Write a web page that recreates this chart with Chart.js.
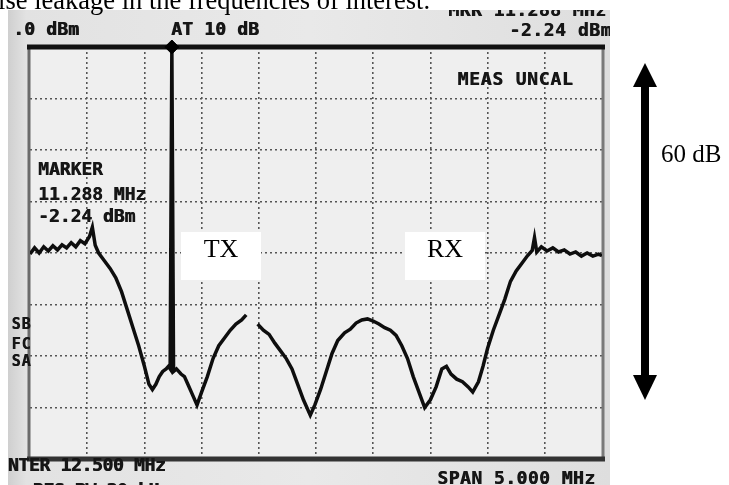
<!DOCTYPE html>
<html><head><meta charset="utf-8">
<script src="https://cdn.jsdelivr.net/npm/chart.js@4.4.1/dist/chart.umd.min.js"></script>
<style>html,body{margin:0;padding:0;background:#fff;overflow:hidden}</style>
</head><body>
<canvas id="c" width="729" height="485"></canvas>
<script>
// ---- data (spectrum analyzer trace) ----
const freqMHz = [10.00,10.04,10.08,10.12,10.16,10.20,10.24,10.28,10.32,10.36,10.40,10.44,10.48,10.52,10.545,10.57,10.60,10.65,10.70,10.75,10.80,10.85,10.90,10.95,11.00,11.04,11.07,11.10,11.13,11.16,11.19,11.21,11.225,11.24,11.255,11.28,11.32,11.35,11.38,11.42,11.46,11.50,11.55,11.60,11.65,11.70,11.75,11.80,11.85,11.89,11.94,11.99,12.04,12.09,12.14,12.19,12.24,12.29,12.34,12.39,12.45,12.49,12.54,12.59,12.64,12.69,12.75,12.80,12.85,12.90,12.95,13.00,13.05,13.10,13.15,13.20,13.25,13.30,13.35,13.40,13.45,13.50,13.55,13.60,13.64,13.68,13.73,13.78,13.83,13.87,13.92,13.96,14.00,14.05,14.10,14.15,14.20,14.25,14.30,14.35,14.39,14.41,14.43,14.47,14.52,14.57,14.62,14.67,14.72,14.77,14.82,14.87,14.92,14.97,15.00];
const levelDbm = [-40.2,-39.0,-40.0,-38.8,-39.6,-38.6,-39.4,-38.4,-39.0,-38.0,-38.8,-37.6,-38.2,-36.8,-35.0,-38.5,-40.0,-41.5,-43.0,-44.8,-47.5,-51.0,-54.5,-58.0,-62.0,-65.5,-66.5,-65.5,-64.0,-63.0,-62.5,-62.0,-62.5,0,-63.0,-62.5,-63.5,-64.0,-65.5,-67.5,-69.5,-67.0,-64.0,-60.5,-58.0,-56.5,-55.0,-53.8,-53.0,-52.0,null,-53.8,-55.0,-55.8,-57.5,-59.0,-60.5,-62.5,-65.5,-68.5,-71.5,-69.5,-66.5,-63.0,-59.5,-57.0,-55.5,-54.8,-53.6,-53.0,-52.8,-53.2,-53.8,-54.5,-55.0,-56.0,-58.0,-60.5,-64.0,-67.0,-70.0,-68.5,-66.0,-62.5,-62.0,-63.5,-64.5,-65.0,-66.0,-67.0,-65.0,-62.0,-58.5,-55.0,-52.0,-49.0,-45.5,-43.5,-42.0,-40.5,-39.5,-37.0,-39.8,-38.8,-39.6,-39.0,-39.8,-39.4,-40.2,-39.8,-40.6,-40.0,-40.6,-40.2,-40.5];
const markerFreqMHz = [11.24];
const markerLevelDbm = [0];
const xTicksMHz = [10,10.5,11,11.5,12,12.5,13,13.5,14,14.5,15];
const yTicksDbm = [0,-10,-20,-30,-40,-50,-60,-70,-80];
// screen annotation texts
const screenTop = [".0 dBm", "AT 10 dB", "MKR 11.288 MHz", "-2.24 dBm"];
const markerBlock = ["MARKER", "11.288 MHz", "-2.24 dBm"];
const sideBlock = ["SB", "FC", "SA"];
const bottomText = ["CENTER 12.500 MHz", "RES BW 30 kHz", "SPAN 5.000 MHz"];
const bandLabels = ["TX", "RX"];
const caption = "noise leakage in the frequencies of interest.";
const rangeLabel = "60 dB";

const points = freqMHz.map((f, i) => ({x: f, y: levelDbm[i]}));
const markerPts = markerFreqMHz.map((f, i) => ({x: f, y: markerLevelDbm[i]}));

function mono(ctx, txt, x, y, adv, size) {
  ctx.font = 'bold ' + size + 'px "DejaVu Sans Mono"';
  ctx.textAlign = 'center';
  ctx.textBaseline = 'middle';
  for (let i = 0; i < txt.length; i++) {
    const cx = x + adv * i + adv / 2;
    ctx.fillText(txt[i], cx, y);
    ctx.fillText(txt[i], cx + 0.6, y);
  }
}

const photo = {
  id: 'photo',
  beforeDraw(chart) {
    const ctx = chart.ctx, a = chart.chartArea;
    ctx.save();
    ctx.fillStyle = '#fff';
    ctx.fillRect(0, 0, 729, 485);
    const g = ctx.createLinearGradient(8, 0, 610, 0);
    g.addColorStop(0, '#cfcfcf');
    g.addColorStop(0.03, '#e2e2e2');
    g.addColorStop(0.5, '#e9e9e9');
    g.addColorStop(1, '#dedede');
    ctx.fillStyle = g;
    ctx.fillRect(8, 10, 602, 475);
    ctx.fillStyle = '#efefef';
    ctx.fillRect(a.left, a.top, a.right - a.left, a.bottom - a.top);
    ctx.restore();
  },
  beforeDatasetsDraw(chart) {
    const ctx = chart.ctx, a = chart.chartArea;
    ctx.save();
    ctx.lineCap = 'butt';
    ctx.strokeStyle = '#6b6b6b'; ctx.lineWidth = 3;
    ctx.beginPath(); ctx.moveTo(a.left - 1, a.top); ctx.lineTo(a.left - 1, a.bottom); ctx.stroke();
    ctx.strokeStyle = '#7a7a7a';
    ctx.beginPath(); ctx.moveTo(a.right + 1, a.top); ctx.lineTo(a.right + 1, a.bottom); ctx.stroke();
    ctx.strokeStyle = '#111'; ctx.lineWidth = 5;
    ctx.beginPath(); ctx.moveTo(a.left - 3, a.top); ctx.lineTo(a.right + 3, a.top); ctx.stroke();
    ctx.strokeStyle = '#333'; ctx.lineWidth = 5;
    ctx.beginPath(); ctx.moveTo(a.left - 3, a.bottom); ctx.lineTo(a.right + 3, a.bottom); ctx.stroke();
    ctx.restore();
  },
  beforeDatasetDraw(chart) { chart.ctx.filter = 'blur(0.6px)'; },
  afterDatasetDraw(chart) { chart.ctx.filter = 'none'; },
  afterDraw(chart) {
    const ctx = chart.ctx;
    ctx.save();
    ctx.beginPath(); ctx.rect(8, 10, 602, 475); ctx.clip();
    ctx.fillStyle = '#161616';
    ctx.filter = 'blur(0.6px)';
    mono(ctx, screenTop[0], 13, 30, 11, 18);
    mono(ctx, screenTop[1], 171, 30, 11, 18);
    mono(ctx, screenTop[2], 448, 11, 11.3, 18);
    mono(ctx, screenTop[3], 509, 31, 11.4, 18);
    mono(ctx, "MEAS UNCAL", 457, 80, 11.6, 18);
    mono(ctx, markerBlock[0], 38, 170, 10.8, 18);
    mono(ctx, markerBlock[1], 38, 195, 10.8, 18);
    mono(ctx, markerBlock[2], 38, 217, 10.8, 18);
    mono(ctx, sideBlock[0], 11, 325, 10, 15);
    mono(ctx, sideBlock[1], 11, 345, 10, 15);
    mono(ctx, sideBlock[2], 11, 362, 10, 15);
    mono(ctx, bottomText[0], -13, 466, 10.5, 18);
    mono(ctx, bottomText[1], 33, 491, 10.5, 18);
    mono(ctx, bottomText[2], 437, 479, 11.3, 18);
    ctx.restore();

    ctx.save();
    ctx.fillStyle = '#000';
    ctx.font = '26.5px "Liberation Serif"';
    ctx.textAlign = 'right'; ctx.textBaseline = 'alphabetic';
    ctx.fillText(caption, 430, 9);
    ctx.fillStyle = '#fff';
    ctx.fillRect(181, 232, 80, 48);
    ctx.fillRect(405, 232, 80, 48);
    ctx.fillStyle = '#000';
    ctx.font = '26px "Liberation Serif"';
    ctx.textAlign = 'center';
    ctx.fillText(bandLabels[0], 221, 257);
    ctx.fillText(bandLabels[1], 445, 257);
    ctx.fillRect(641, 86, 8, 290);
    ctx.beginPath(); ctx.moveTo(645, 63); ctx.lineTo(657, 87); ctx.lineTo(633, 87); ctx.closePath(); ctx.fill();
    ctx.beginPath(); ctx.moveTo(645, 400); ctx.lineTo(657, 375); ctx.lineTo(633, 375); ctx.closePath(); ctx.fill();
    ctx.font = '25px "Liberation Serif"';
    ctx.textAlign = 'left';
    ctx.fillText(rangeLabel, 661, 162);
    ctx.restore();
  }
};

const gridColor = (n) => (c) => (c.index === 0 || c.index === n - 1) ? 'rgba(0,0,0,0)' : '#555555';

new Chart(document.getElementById('c'), {
  type: 'line',
  data: {
    datasets: [
      {data: points, borderColor: '#0e0e0e', borderWidth: 3.5, pointRadius: 0, tension: 0, spanGaps: false, fill: false, order: 2},
      {type: 'scatter', data: markerPts, pointStyle: 'rectRot', pointRadius: 7, backgroundColor: '#000', borderColor: '#000', clip: false, order: 1}
    ]
  },
  options: {
    responsive: false,
    animation: false,
    devicePixelRatio: 1,
    layout: {padding: {left: 30, right: 127, top: 47, bottom: 26}},
    plugins: {legend: {display: false}, tooltip: {enabled: false}},
    scales: {
      x: {
        type: 'linear', min: 10, max: 15,
        afterBuildTicks: (s) => { s.ticks = xTicksMHz.map(v => ({value: v})); },
        ticks: {display: false},
        grid: {drawTicks: false, color: gridColor(xTicksMHz.length), lineWidth: 1.6},
        border: {display: false, dash: [2, 3]}
      },
      y: {
        type: 'linear', min: -80, max: 0,
        afterBuildTicks: (s) => { s.ticks = yTicksDbm.map(v => ({value: v})); },
        ticks: {display: false},
        grid: {drawTicks: false, color: gridColor(yTicksDbm.length), lineWidth: 1.6},
        border: {display: false, dash: [2, 3]}
      }
    }
  },
  plugins: [photo]
});
</script>
</body></html>
